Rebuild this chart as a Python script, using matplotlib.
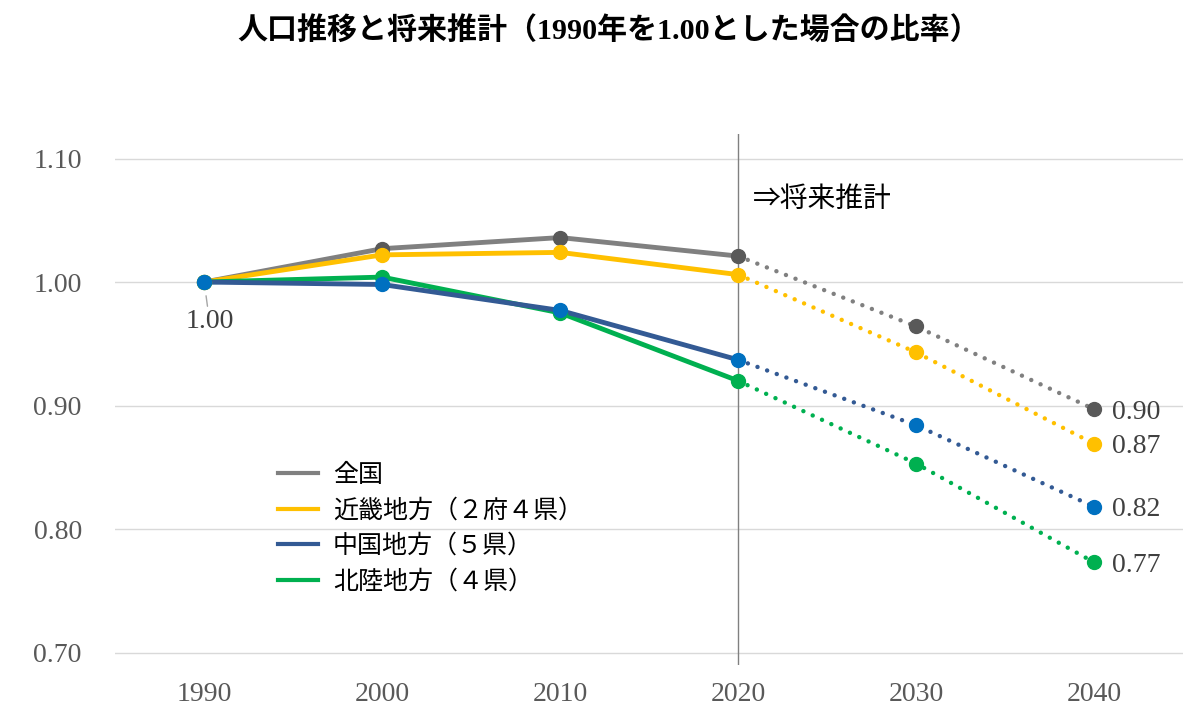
import matplotlib
matplotlib.use("Agg")
import matplotlib.pyplot as plt
from matplotlib.lines import Line2D

# データ（1990年を1.00とした比率）
years = [1990, 2000, 2010, 2020, 2030, 2040]
national = [1.000, 1.027, 1.036, 1.021, 0.964, 0.897]
kinki = [1.000, 1.022, 1.024, 1.006, 0.943, 0.869]
chugoku = [1.000, 0.998, 0.977, 0.937, 0.884, 0.818]
hokuriku = [1.000, 1.004, 0.975, 0.920, 0.853, 0.773]
labels = ["全国", "近畿地方（２府４県）", "中国地方（５県）", "北陸地方（４県）"]
y_ticks = [0.70, 0.80, 0.90, 1.00, 1.10]

jp = ["Noto Sans CJK JP", "DejaVu Sans"]
serif = ["Liberation Serif", "DejaVu Serif"]

fig = plt.figure(figsize=(12, 7.21), dpi=100)
ax = fig.add_axes([0.096, 0.0778, 0.89, 0.7366])

series = [
    (national, "#808080", "#595959"),
    (kinki, "#FFC000", "#FFC000"),
    (hokuriku, "#00B050", "#00B050"),
    (chugoku, "#335A94", "#0070C0"),
]
n_past = years.index(2020) + 1

for vals, lc, mc in series:
    ax.plot(years[:n_past], vals[:n_past], color=lc, lw=3.5, solid_capstyle="round", zorder=3)
    ax.plot(years[n_past - 1:], vals[n_past - 1:], color=lc, lw=3.2,
            linestyle=(0, (0.01, 2.3)), dash_capstyle="round", zorder=3)
    ax.plot(years, vals, linestyle="none", marker="o", ms=10, color=mc, zorder=4)
    ax.text(years[-1] + 1.0, vals[-1], f"{vals[-1]:.2f}", family=serif, fontsize=20,
            color="#404040", va="center_baseline", ha="left")

# 1990年のラベル
ax.annotate(f"{national[0]:.2f}", xy=(years[0], national[0]), xytext=(years[0] + 0.3, 0.968),
            family=serif, fontsize=20, color="#404040", ha="center", va="center",
            arrowprops=dict(arrowstyle="-", color="#A6A6A6", lw=1, shrinkA=0, shrinkB=10))

ax.axvline(2020, color="#808080", lw=1, zorder=2)
ax.text(2020.8, 1.067, "⇒将来推計", family=jp, fontsize=20, color="#000000", va="center")

ax.set_xlim(1985, 2045)
ax.set_ylim(0.69, 1.12)
ax.set_xticks(years)
ax.set_yticks(y_ticks)
ax.set_yticklabels([f"{v:.2f}" for v in y_ticks])
ax.grid(axis="y", color="#D9D9D9", lw=1)
ax.set_axisbelow(True)
for s in ax.spines.values():
    s.set_visible(False)
ax.tick_params(axis="both", length=0, labelsize=20, labelcolor="#595959")
ax.tick_params(axis="y", pad=24)
ax.tick_params(axis="x", pad=12)
for t in ax.get_xticklabels() + ax.get_yticklabels():
    t.set_family(serif)

handles = [Line2D([], [], color=c, lw=3) for c in ["#808080", "#FFC000", "#335A94", "#00B050"]]
leg = ax.legend(handles, labels, loc="upper left", bbox_to_anchor=(268 / 1200, 1 - 452 / 721),
                bbox_transform=fig.transFigure, frameon=False, prop={"family": jp, "size": 18},
                handlelength=1.6, handletextpad=0.6, labelspacing=0.38, borderaxespad=0)

fig.text(0.507, 1 - 30 / 721, "人口推移と将来推計（1990年を1.00とした場合の比率）",
         family=["Liberation Serif", "Noto Sans CJK JP"], fontweight="bold", fontsize=21.6,
         ha="center", va="center", color="#000000")

fig.savefig("out.png", dpi=100)
